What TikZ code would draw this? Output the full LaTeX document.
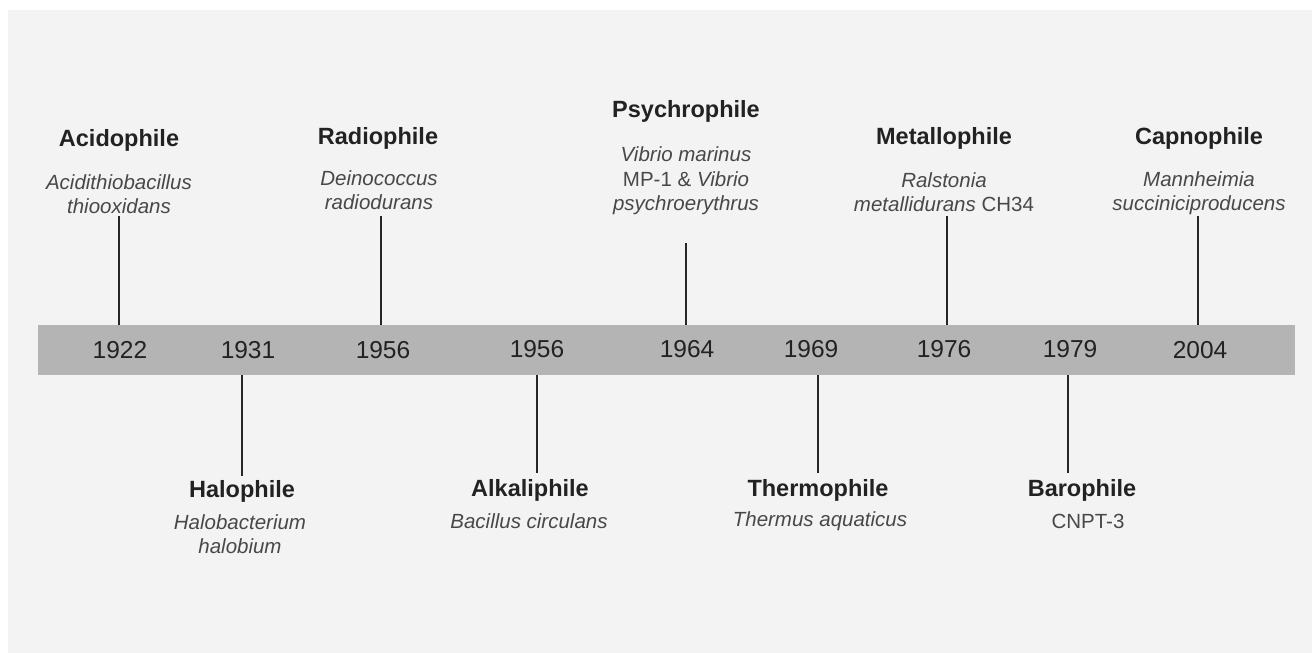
\documentclass[tikz,border=0pt]{standalone}
\usepackage{fontspec}
\setmainfont{Liberation Sans}
\usepackage{tikz}
\usetikzlibrary{positioning,calc}
\definecolor{bgcol}{HTML}{F3F3F3}
\definecolor{barcol}{HTML}{B4B4B4}
\definecolor{txtcol}{HTML}{222222}
\definecolor{spcol}{HTML}{484848}
\tikzset{
    every picture/.style={line width=0.5pt},
    yearlabel/.style={text=txtcol,font=\fontsize{24.5}{28}\selectfont,inner sep=0pt},
    phile/.style={text=txtcol,font=\bfseries\fontsize{23.5}{27}\selectfont,inner sep=0pt},
    species/.style={text=spcol,font=\fontsize{20.5}{24.5}\selectfont,align=center,inner sep=0pt},
    tick/.style={draw=black!85,line width=1.6pt}
}

\begin{document}
\begin{tikzpicture}[x=1pt,y=-1pt]
    \fill[white] (0,0) rectangle (1312,653);
    \useasboundingbox (0,0) rectangle (1312,653);
    \fill[bgcol] (8,10) rectangle (1312,653);

    % the time bar
    \node[fill=barcol,minimum width=1257pt,minimum height=50pt,inner sep=0pt] (bar) at (666.5,350) {};
    \node[yearlabel] (y1922) at (120,350) {1922};
    \node[yearlabel] (y1931) at (248,350) {1931};
    \node[yearlabel] (y1956a) at (383,350) {1956};
    \node[yearlabel] (y1956b) at (537,349) {1956};
    \node[yearlabel] (y1964) at (687,349) {1964};
    \node[yearlabel] (y1969) at (811,349) {1969};
    \node[yearlabel] (y1976) at (944,349) {1976};
    \node[yearlabel] (y1979) at (1070,349) {1979};
    \node[yearlabel] (y2004) at (1200,350) {2004};

    % above the bar
    \node[phile] (acido) at (119,140) {Acidophile};
    \node[species] (acidosp) at (119,194) {\textit{Acidithiobacillus}\\\textit{thiooxidans}};
    \node[phile] (radio) at (378,138) {Radiophile};
    \node[species] (radiosp) at (379,190) {\textit{Deinococcus}\\\textit{radiodurans}};
    \node[phile] (psychro) at (686,111) {Psychrophile};
    \node[species] (psychrosp) at (686,181) {\textit{Vibrio marinus}\\MP-1 \& \textit{Vibrio}\\\textit{psychroerythrus}};
    \node[phile] (metallo) at (944,138) {Metallophile};
    \node[species] (metallosp) at (944,192) {\textit{Ralstonia}\\\textit{metallidurans} CH34};
    \node[phile] (capno) at (1199,138) {Capnophile};
    \node[species] (capnosp) at (1199,193) {\textit{Mannheimia}\\\textit{succiniciproducens}};

    % below the bar
    \node[phile] (halo) at (242,491) {Halophile};
    \node[species] (halosp) at (240,534) {\textit{Halobacterium}\\\textit{halobium}};
    \node[phile] (alkali) at (530,490) {Alkaliphile};
    \node[species] (alkalisp) at (529,521) {\textit{Bacillus circulans}};
    \node[phile] (thermo) at (818,490) {Thermophile};
    \node[species] (thermosp) at (820,521) {\textit{Thermus aquaticus}};
    \node[phile] (baro) at (1082,490) {Barophile};
    \node[species] (barosp) at (1088,521) {CNPT-3};

    % ticks
    \coordinate (a1) at (119,216);
    \coordinate (a2) at (381,216);
    \coordinate (a3) at (686,243);
    \coordinate (a4) at (947,216);
    \coordinate (a5) at (1198,216);
    \coordinate (b1) at (242,476);
    \coordinate (b2) at (537,473);
    \coordinate (b3) at (818,473);
    \coordinate (b4) at (1068,473);
    \foreach \c in {a1,a2,a3,a4,a5}
        \draw[tick] (\c) -- (\c |- bar.north);
    \foreach \c in {b1,b2,b3,b4}
        \draw[tick] (\c |- bar.south) -- (\c);
\end{tikzpicture}
\end{document}
